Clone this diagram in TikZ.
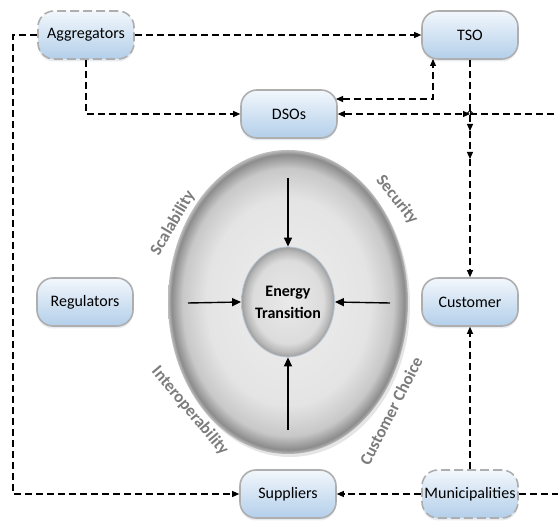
\documentclass[tikz,border=0pt]{standalone}
\usepackage{fontspec}
\setmainfont{Carlito}
\usetikzlibrary{arrows.meta,shadows,calc,shapes.geometric}

\definecolor{boxtop}{HTML}{F2F7FC}
\definecolor{boxbot}{HTML}{B3CFEA}
\definecolor{boxrim}{HTML}{AEAEAE}
\definecolor{labelgray}{HTML}{7C7C7C}
\definecolor{discA}{HTML}{EEEEEE}
\definecolor{discB}{HTML}{E4E4E4}
\definecolor{discC}{HTML}{C8C8C8}
\definecolor{discD}{HTML}{8C8C8C}
\definecolor{discE}{HTML}{BDBDBD}
\definecolor{coreA}{HTML}{E9E9E9}
\definecolor{coreB}{HTML}{DCDCDC}
\definecolor{coreC}{HTML}{B8B8B8}
\definecolor{coreD}{HTML}{9C9C9C}
\definecolor{corerim}{HTML}{B9C6D3}

% shaded discs with a darker rim
\pgfdeclareradialshading{discshade}{\pgfpoint{0bp}{0bp}}{%
  color(0bp)=(discA); color(17bp)=(discB); color(22bp)=(discC);
  color(24.3bp)=(discD); color(25bp)=(discE); color(50bp)=(discE)}
\pgfdeclareradialshading{coreshade}{\pgfpoint{0bp}{0bp}}{%
  color(0bp)=(coreA); color(19bp)=(coreB); color(23bp)=(coreC);
  color(25bp)=(coreD); color(50bp)=(coreD)}

\tikzset{
  actor/.style={rounded corners=16pt, minimum width=96pt, minimum height=48pt,
    top color=boxtop, bottom color=boxbot, draw=boxrim, line width=1.6pt,
    font=\fontsize{16}{18}\selectfont, inner sep=1pt,
    drop shadow={shadow xshift=0pt, shadow yshift=-2.5pt, opacity=0.25, fill=boxbot!70!gray}},
  actordash/.style={actor, dash pattern=on 9pt off 4pt},
  conn/.style={draw=black, line width=1.1pt, dash pattern=on 7pt off 4pt},
  tip/.tip={Triangle[length=7pt,width=6pt]},
  push/.style={draw=black, line width=1.4pt, -{Triangle[length=9pt,width=8pt]}},
  lbl/.style={text=labelgray, font=\bfseries\fontsize{17}{19}\selectfont, inner sep=0pt},
}

\begin{document}
\begin{tikzpicture}[x=1pt, y=-1pt]
  \useasboundingbox (0,0) rectangle (558,521);
  \fill[white] (0,0) rectangle (558,521);

  % central rings
  \node[ellipse, minimum width=240pt, minimum height=304pt, inner sep=0pt,
        shading=discshade,
        drop shadow={shadow xshift=2pt, shadow yshift=-3pt, opacity=0.2, fill=gray}]
        (ring) at (288,302) {};
  \node[ellipse, minimum width=88pt, minimum height=110pt, inner sep=0pt,
        shading=coreshade, draw=corerim, line width=0.8pt,
        align=center, font=\bfseries\fontsize{16}{22}\selectfont]
        (core) at (288,302) {Energy\\Transition};

  % arrows pointing into the core
  \coordinate (pn) at (288,178);
  \coordinate (pw) at (188,303);
  \coordinate (pe) at (390,303);
  \coordinate (ps) at (288,430);
  \draw[push] (pn) -- (core.north);
  \draw[push] (pw) -- (core.west);
  \draw[push] (pe) -- (core.east);
  \draw[push] (ps) -- (core.south);

  % ring labels
  \node[lbl, rotate=59.5]  (lscal) at (173,223) {Scalability};
  \node[lbl, rotate=-51.5] (lsec)  at (397,200) {Security};
  \node[lbl, rotate=-50]   (lint)  at (190,411) {Interoperability};
  \node[lbl, rotate=63]    (lcc)   at (391,411) {Customer Choice};

  % actors
  \node[actordash] (agg) at (86,35)  {Aggregators};
  \node[actor]     (tso) at (470,35) {TSO};
  \node[actor]     (dso) at (289,114) {DSOs};
  \node[actor]     (reg) at (85,302) {Regulators};
  \node[actor]     (cus) at (470,302) {Customer};
  \node[actor]     (sup) at (288,494) {Suppliers};
  \node[actordash] (mun) at (470,494) {Municipalities};

  % connectors
  \coordinate (lcorner) at (13,35);
  \coordinate (junc)    at (470,114);
  \coordinate (redge)   at (558,114);
  \coordinate (redge2)  at (558,494);
  \coordinate (tsoport) at (433,59);
  \coordinate (dsoport) at (336,99);
  \coordinate (v1)      at (470,131);
  \coordinate (v2)      at (470,159);
  \coordinate (caretA)  at (470,120);
  \coordinate (caretB)  at (470,110);

  \draw[conn, -tip] (agg.west) -- (lcorner) |- (sup.west);
  \draw[conn, -tip] (agg.east) -- (tso.west);
  \draw[conn, -tip] (agg.south) |- (dso.west);
  \draw[conn, tip-tip] (dsoport) -| (tsoport);
  \draw[conn, tip-tip] (dso.east) -- (junc);
  \draw[conn] (junc) -- (redge);
  \draw[conn, -tip] (tso.south) -- (v1);
  \draw[conn, -tip] (v1) -- (v2);
  \draw[conn, -tip] (v2) -- (cus.north);
  \draw[line width=0.8pt, -{Straight Barb[length=2.5pt,width=5pt]}] (caretA) -- (caretB);
  \draw[conn, -tip] (mun.north) -- (cus.south);
  \draw[conn, -tip] (mun.west) -- (sup.east);
  \draw[conn] (mun.east) -- (redge2);
\end{tikzpicture}
\end{document}
